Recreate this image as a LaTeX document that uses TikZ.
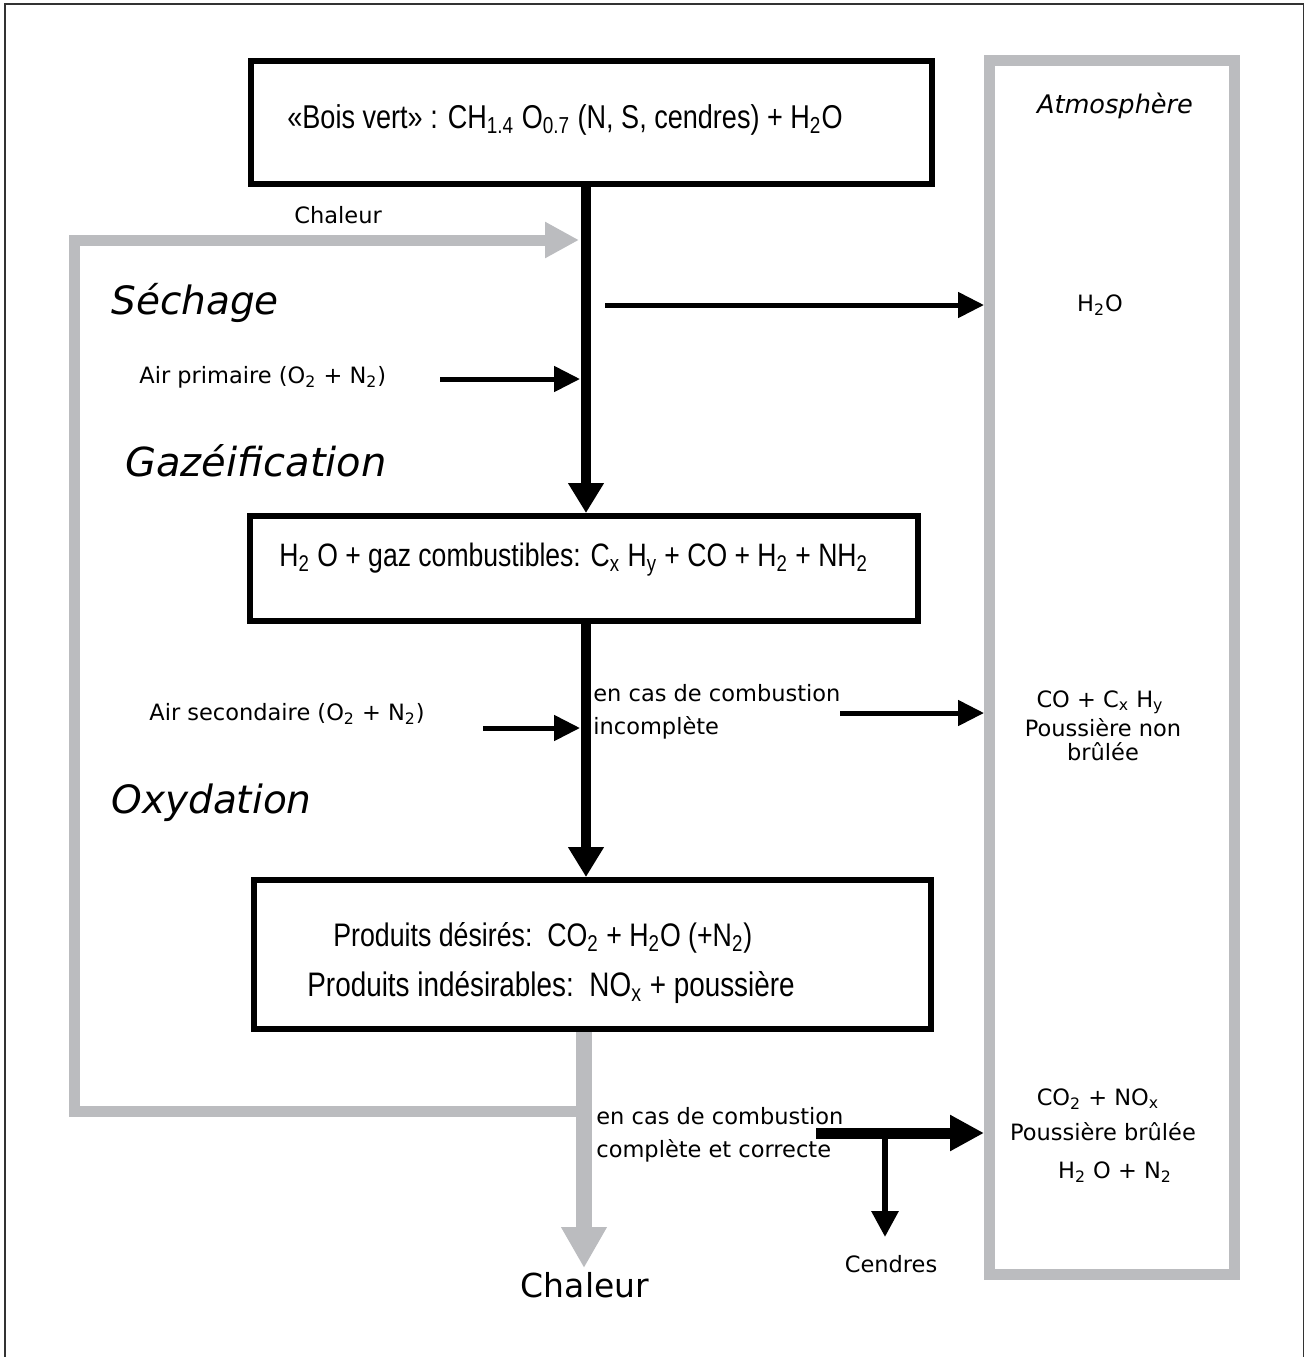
\documentclass[tikz,border=0pt]{standalone}
\usepackage{fontspec}
\setmainfont{DejaVu Sans}
\newfontfamily\narrowfont[FakeStretch=0.82]{Liberation Sans}
\usetikzlibrary{arrows.meta}
\definecolor{atmgray}{RGB}{187,188,191}
\newcommand\sbs[1]{\textsubscript{#1}}
\tikzset{
  lbl/.style={inner sep=0pt, anchor=base west, font=\fontsize{11.25}{16.5}\selectfont},
  heading/.style={inner sep=0pt, anchor=base west, font=\fontsize{19.5}{22}\selectfont\itshape},
  narrow/.style={inner sep=0pt, anchor=base west, font=\narrowfont\fontsize{16.5}{20}\selectfont},
  procbox/.style={draw=black, line width=3pt, inner sep=0pt},
  atmbox/.style={draw=atmgray, line width=5.5pt, inner sep=0pt},
  flow/.style={line width=5pt, -{Triangle[length=15pt,width=17pt]}},
  thin arrow/.style={line width=2.5pt, -{Triangle[length=13pt,width=12.5pt]}},
  heat/.style={draw=atmgray, line width=5.5pt, -{Triangle[length=17pt,width=17pt]}, color=atmgray},
}
\begin{document}
\begin{tikzpicture}[x=0.5pt,y=-0.5pt]
\path[use as bounding box] (0,0) rectangle (1305,1357);
% outer frame
\draw[black!80, line width=0.75pt] (5,1360) -- (5,4) -- (1303.5,4) -- (1303.5,1360);

% boxes
\node[procbox, minimum width=340.5pt, minimum height=61.5pt] (box1) at (591.5,122.5) {};
\node[procbox, minimum width=334pt, minimum height=52.5pt] (box2) at (583.5,568.5) {};
\node[procbox, minimum width=338.5pt, minimum height=74.5pt] (box3) at (592.5,954.5) {};
\node[atmbox, minimum width=122.5pt, minimum height=606.75pt] (atm) at (1112,667.25) {};

% box texts
\node[narrow] (t1) at (287,128) {«Bois vert» : CH\sbs{1.4} O\sbs{0.7} (N, S, cendres) + H\sbs{2}O};
\node[narrow, font=\narrowfont\fontsize{16.2}{20}\selectfont] (t2) at (279,566) {H\sbs{2} O + gaz combustibles: C\sbs{x} H\sbs{y} + CO + H\sbs{2} + NH\sbs{2}};
\node[narrow, font=\narrowfont\fontsize{16.3}{20}\selectfont] (t3a) at (333,946) {Produits désirés:\ \ CO\sbs{2} + H\sbs{2}O (+N\sbs{2})};
\node[narrow, font=\narrowfont\fontsize{17}{20}\selectfont] (t3b) at (307,996) {Produits indésirables:\ \ NO\sbs{x} + poussière};

% left labels
\node[lbl] (chal1) at (294,223) {Chaleur};
\node[heading] (sech) at (111,314) {Séchage};
\node[lbl] (airp) at (139,383) {Air primaire (O\sbs{2} + N\sbs{2})};
\node[heading, font=\fontsize{20}{22}\selectfont\itshape] (gaz) at (125,476) {Gazéification};
\node[lbl] (airs) at (149,720) {Air secondaire (O\sbs{2} + N\sbs{2})};
\node[heading] (oxy) at (111,813) {Oxydation};

% middle labels
\node[lbl, align=left] (inc) at (593,734) {en cas de combustion\\incomplète};
\node[lbl, align=left] (comp) at (596,1157) {en cas de combustion\\complète et correcte};
\node[lbl, anchor=base] (cend) at (891,1272) {Cendres};
\node[inner sep=0pt, anchor=base, font=\fontsize{16.5}{20}\selectfont] (chal2) at (585,1297) {Chaleur};

% atmosphere labels
\node[inner sep=0pt, anchor=base, font=\fontsize{12.8}{15}\selectfont\itshape] (atmt) at (1115,113) {Atmosphère};
\node[lbl, anchor=base] (ah2o) at (1100,311) {H\sbs{2}O};
\node[lbl, anchor=base] (aco) at (1100,707) {CO + C\sbs{x} H\sbs{y}};
\node[lbl, anchor=base] (apou) at (1103,736) {Poussière non};
\node[lbl, anchor=base] (abru) at (1103,760) {brûlée};
\node[lbl, anchor=base] (aco2) at (1098,1105) {CO\sbs{2} + NO\sbs{x}};
\node[lbl, anchor=base] (apb) at (1103,1140) {Poussière brûlée};
\node[lbl, anchor=base] (ah2on2) at (1115,1178) {H\sbs{2} O + N\sbs{2}};

% coordinates
\coordinate (mx) at (586,0);
\coordinate (gx) at (584,0);
\coordinate (loopstart) at (584,1111);
\coordinate (loopbl) at (74.5,1111);
\coordinate (looptl) at (74.5,240);
\coordinate (looptip) at (579,240);
\coordinate (apstart) at (440,379);
\coordinate (aptip) at (580,379);
\coordinate (h2ostart) at (605,305);
\coordinate (asstart) at (483,728);
\coordinate (astip) at (580,728);
\coordinate (incstart) at (840,713);
\coordinate (compstart) at (816,1133);
\coordinate (branch) at (885,1133);
\coordinate (cendtip) at (885,1237);
\coordinate (chaltip) at (584,1268);

% heat loop (gray)
\draw[heat, line join=miter] (loopstart) -- (loopbl) -- (looptl) -- (looptip);
\draw[heat, line width=8pt, -{Triangle[length=20.5pt,width=21.5pt]}] (box3.south -| gx) -- (chaltip);

% main black flow
\draw[flow] (box1.south -| mx) -- (box2.north -| mx);
\draw[flow] (box2.south -| mx) -- (box3.north -| mx);

% side arrows
\draw[thin arrow] (apstart) -- (aptip);
\draw[thin arrow] (h2ostart) -- (atm.west |- h2ostart);
\draw[thin arrow] (asstart) -- (astip);
\draw[thin arrow] (incstart) -- (atm.west |- incstart);
\draw[line width=5.5pt, -{Triangle[length=17pt,width=17pt]}] (compstart) -- (atm.west |- compstart);
\draw[line width=3pt, -{Triangle[length=13pt,width=13pt]}] (branch) -- (cendtip);
\end{tikzpicture}
\end{document}
